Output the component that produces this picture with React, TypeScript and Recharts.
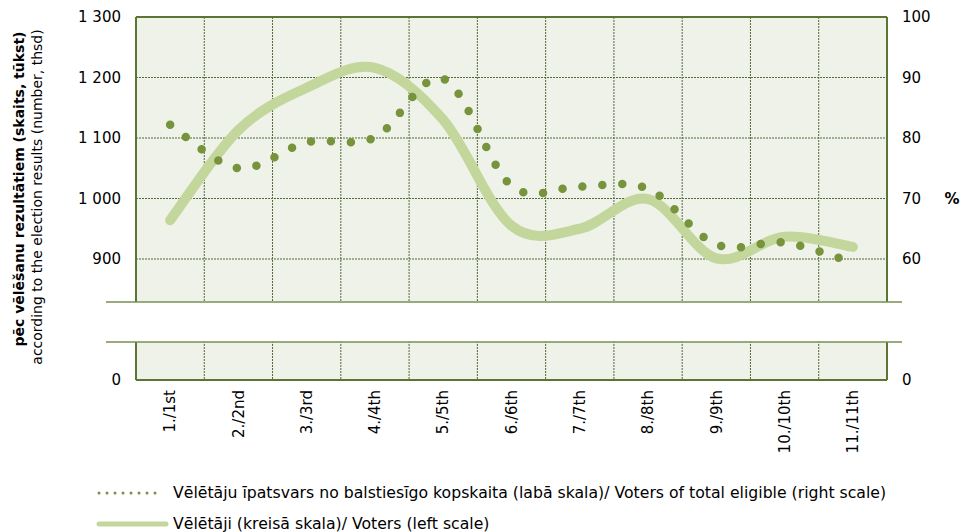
import { LineChart, Line, XAxis, YAxis, CartesianGrid, ReferenceArea, ReferenceLine } from 'recharts'

// Saeima elections 1st..11th
const categories = ['1./1st', '2./2nd', '3./3rd', '4./4th', '5./5th', '6./6th', '7./7th', '8./8th', '9./9th', '10./10th', '11./11th']
// voters, thousands (left scale)
const voters = [964, 1113, 1183, 1216, 1130, 955, 950, 999, 901, 937, 920]
// voters of total eligible, % (right scale)
const turnout = [82.2, 75.0, 79.3, 80.1, 89.8, 72.1, 72.0, 71.6, 62.4, 62.7, 59.4]

// broken axes: the bottom tick stands for 0
const leftTicks = [700, 900, 1000, 1100, 1200, 1300]
const rightTicks = [40, 60, 70, 80, 90, 100]
const leftBreak = [763, 829]

const FONT = '"DejaVu Sans", Verdana, sans-serif'
const OLIVE = '#5d7532'
const DOTS = '#77933C'
const LIGHT = '#C3D69B'
const BG = '#EEF2E8'

const data = categories.map((c, i) => ({ name: c, voters: voters[i], turnout: turnout[i] }))

// Excel-like smoothing (Catmull-Rom through every point)
const smooth = (context: any) => {
  let pts: number[][] = []
  return {
    areaStart() {},
    areaEnd() {},
    lineStart() {
      pts = []
    },
    point(x: number, y: number) {
      pts.push([+x, +y])
    },
    lineEnd() {
      if (!pts.length) return
      context.moveTo(pts[0][0], pts[0][1])
      for (let i = 0; i < pts.length - 1; i++) {
        const p0 = pts[Math.max(i - 1, 0)]
        const p1 = pts[i]
        const p2 = pts[i + 1]
        const p3 = pts[Math.min(i + 2, pts.length - 1)]
        context.bezierCurveTo(
          p1[0] + (p2[0] - p0[0]) / 6,
          p1[1] + (p2[1] - p0[1]) / 6,
          p2[0] - (p3[0] - p1[0]) / 6,
          p2[1] - (p3[1] - p1[1]) / 6,
          p2[0],
          p2[1],
        )
      }
    },
  }
}

const fmtLeft = (v: number) => (v === 700 ? '0' : String(v).replace(/\B(?=(\d{3})+(?!\d))/g, ' '))
const fmtRight = (v: number) => (v === 40 ? '0' : String(v))

const CatTick = ({ x, y, payload }: any) => (
  <text
    x={x}
    y={y}
    transform={`rotate(-90 ${x} ${y})`}
    textAnchor="end"
    dy="0.35em"
    fontSize={15}
    fontFamily={FONT}
    fill="#000"
  >
    {payload.value}
  </text>
)

const BreakBand = ({ x, y, width, height }: any) => (
  <g>
    <rect x={x - 30} y={y} width={width + 45} height={height} fill="#fff" />
    <line x1={x - 30} x2={x + width + 15} y1={y} y2={y} stroke="#7a9150" strokeWidth={1.5} />
    <line x1={x - 30} x2={x + width + 15} y1={y + height} y2={y + height} stroke="#7a9150" strokeWidth={1.5} />
  </g>
)

export default function App() {
  const tickStyle = { fontSize: 15, fontFamily: FONT, fill: '#000' }
  return (
    <div style={{ position: 'absolute', left: 0, top: 0, width: 964, height: 532, background: '#fff' }}>
      <LineChart width={964} height={532} data={data} margin={{ top: 17, right: 17, bottom: 52, left: 76 }}>
        <CartesianGrid
          yAxisId="left"
          fill={BG}
          stroke="#55683a"
          strokeDasharray="2 1"
          verticalCoordinatesGenerator={({ offset }: any) =>
            categories.slice(1).map((_, i) => offset.left + ((i + 1) * offset.width) / categories.length)
          }
        />
        <XAxis
          dataKey="name"
          scale="band"
          tick={<CatTick />}
          tickLine={false}
          tickSize={0}
          tickMargin={10}
          interval={0}
          height={100}
          axisLine={{ stroke: OLIVE, strokeWidth: 2 }}
        />
        <YAxis
          yAxisId="left"
          width={60}
          domain={[700, 1300]}
          ticks={leftTicks}
          tickFormatter={fmtLeft}
          tick={tickStyle}
          tickLine={false}
          tickSize={0}
          tickMargin={15}
          axisLine={{ stroke: OLIVE, strokeWidth: 2 }}
          allowDataOverflow
        />
        <YAxis
          yAxisId="right"
          orientation="right"
          width={60}
          domain={[40, 100]}
          ticks={rightTicks}
          tickFormatter={fmtRight}
          tick={tickStyle}
          tickLine={false}
          tickSize={0}
          tickMargin={15}
          axisLine={{ stroke: OLIVE, strokeWidth: 2 }}
          allowDataOverflow
        />
        <ReferenceLine yAxisId="left" y={1300} stroke={OLIVE} strokeWidth={2} />
        <Line
          yAxisId="left"
          dataKey="voters"
          type={smooth as any}
          stroke={LIGHT}
          strokeWidth={10}
          strokeLinecap="round"
          dot={false}
          activeDot={false}
          isAnimationActive={false}
        />
        <Line
          yAxisId="right"
          dataKey="turnout"
          type={smooth as any}
          stroke={DOTS}
          strokeWidth={8.5}
          strokeLinecap="round"
          strokeDasharray="0 20"
          dot={false}
          activeDot={false}
          isAnimationActive={false}
        />
        <ReferenceArea
          yAxisId="left"
          y1={leftBreak[0]}
          y2={leftBreak[1]}
          ifOverflow="visible"
          shape={<BreakBand />}
          zIndex={900}
        />
      </LineChart>

      <svg
        width={964}
        height={532}
        style={{ position: 'absolute', left: 0, top: 0, pointerEvents: 'none' }}
        fontFamily={FONT}
      >
        <text x={19} y={189} transform="rotate(-90 19 189)" textAnchor="middle" dy="0.35em" fontSize={14} fontWeight="bold">
          pēc vēlēšanu rezultātiem (skaits, tūkst)
        </text>
        <text x={37} y={197} transform="rotate(-90 37 197)" textAnchor="middle" dy="0.35em" fontSize={14}>
          according to the election results (number, thsd)
        </text>
        <text x={952} y={199} textAnchor="middle" dy="0.35em" fontSize={15} fontWeight="bold">
          %
        </text>
        <line x1={99} x2={163} y1={493} y2={493} stroke={DOTS} strokeWidth={3} strokeLinecap="round" strokeDasharray="0 8" />
        <text x={173} y={493} dy="0.35em" fontSize={15.7}>
          Vēlētāju īpatsvars no balstiesīgo kopskaita (labā skala)/ Voters of total eligible (right scale)
        </text>
        <line x1={99} x2={166} y1={524} y2={524} stroke={LIGHT} strokeWidth={5} strokeLinecap="round" />
        <text x={173} y={524} dy="0.35em" fontSize={15.7}>
          Vēlētāji (kreisā skala)/ Voters (left scale)
        </text>
      </svg>
    </div>
  )
}
